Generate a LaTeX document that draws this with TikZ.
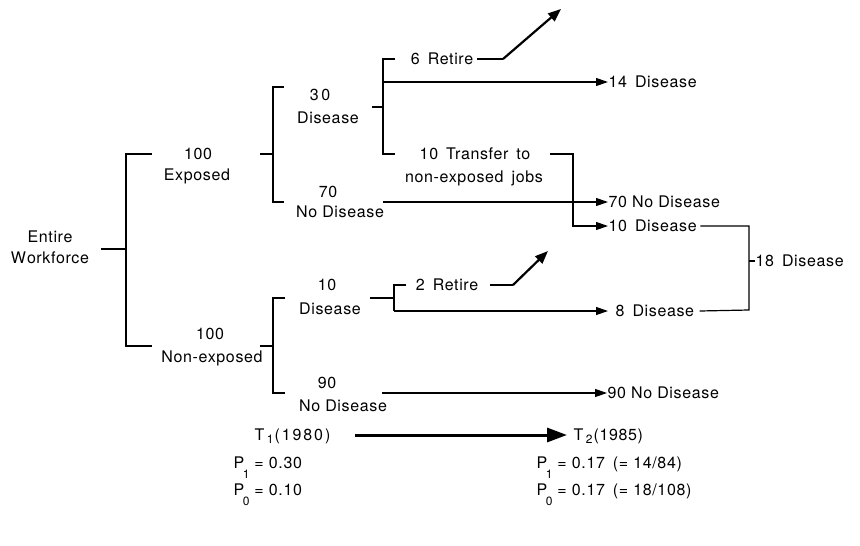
\documentclass[tikz,border=0pt]{standalone}
\usepackage{fontspec}
\setmainfont{TeX Gyre Heros}[LetterSpace=4]
\usetikzlibrary{arrows.meta}
% lowered index for T and P labels
\newcommand\tidx[1]{\kern2.5pt\raisebox{-3pt}{\fontsize{12}{12}\selectfont#1}\kern1pt}
\newcommand\pidx[1]{\kern-1.5pt\raisebox{-10pt}{\fontsize{12}{12}\selectfont#1}\kern5pt}
\begin{document}
\begin{tikzpicture}[x=1pt,y=-1pt,line width=1.2pt,
  lbl/.style={inner sep=0pt,font=\fontsize{16}{19}\selectfont,text height=11.5pt,text depth=0pt},
  wide/.style={lbl,font=\fontsize{16}{19}\selectfont\addfontfeatures{LetterSpace=12}},
  arr/.style={-{Triangle[length=12pt,width=8pt]}},
  retire/.style={line width=2.2pt,-{Triangle[length=13pt,width=10pt]}},
  timeline/.style={line width=3pt,-{Triangle[length=20pt,width=14pt]}}]
\useasboundingbox (0,0) rectangle (860,546);

% ---- labels ----
\node[lbl] (ent1) at (50,237) {Entire};
\node[lbl] (ent2) at (50,258) {W\kern1pt o\kern0.5pt rkforce};
\node[lbl] (ex1) at (198,154) {100};
\node[lbl] (ex2) at (197,175) {Exposed};
\node[lbl] (ne1) at (210,334) {100};
\node[lbl] (ne2) at (212,357) {Non-exposed};

\node[lbl] (ed1) at (320,95) {3\,0};
\node[lbl] (ed2) at (328,118) {Disease};
\node[lbl] (en1) at (328,192) {70};
\node[lbl] (en2) at (340,212) {No Disease};

\node[lbl] (ret6) at (442,59) {6\enspace Retire};
\node[lbl] (tr1) at (475,154) {10\enspace Transfer\enspace to};
\node[lbl] (tr2) at (474,177) {non-exposed\enspace jobs};

\node[lbl,anchor=west] (x14) at (608,82) {14\enspace Disease};
\node[lbl,anchor=west] (x70) at (608,202) {70 No Disease};
\node[lbl,anchor=west] (x10) at (608,226) {10\enspace Disease};
\node[lbl,anchor=west] (x18) at (755,261) {18\enspace Disease};

\node[lbl] (nd1) at (327,285) {10};
\node[lbl] (nd2) at (330,309) {Disease};
\node[lbl] (ret2) at (447,285) {2\enspace Retire};
\node[lbl,anchor=west] (x8) at (615,311) {8\enspace Disease};
\node[lbl] (nn1) at (327,383) {90};
\node[lbl] (nn2) at (343,406) {No Disease};
\node[lbl,anchor=west] (x90) at (607,393) {90 No Disease};

\node[wide,anchor=west] (t1) at (254,435) {T\tidx{1}(1980)};
\node[lbl,anchor=west] (t2) at (573,435) {T\tidx{2}(1985)};

\node[lbl,anchor=west] (p1a) at (233,463) {P\pidx{1}= 0.30};
\node[lbl,anchor=west] (p0a) at (233,490) {P\pidx{0}= 0.10};
\node[lbl,anchor=west] (p1b) at (536,463) {P\pidx{1}= 0.17\enspace(= 14/84)};
\node[lbl,anchor=west] (p0b) at (536,490) {P\pidx{0}= 0.17\enspace(= 18/108)};

% ---- bracket coordinates ----
\coordinate (wf) at (101,249);
\coordinate (wfv) at (126,249);
\coordinate (exs) at (260,154);
\coordinate (exv) at (273,154);
\coordinate (nes) at (260,346);
\coordinate (nev) at (273,346);
\coordinate (eds) at (372,107);
\coordinate (edv) at (383,107);
\coordinate (nds) at (370,298);
\coordinate (ndv) at (394,298);

% workforce split
\draw (wf) -- (wfv);
\draw (152,154) -- (126,154) -- (126,346) -- (152,346);

% exposed split
\draw (exs) -- (exv);
\draw (284,87) -- (273,87) -- (273,202) -- (284,202);

% exposed, disease
\draw (eds) -- (edv);
\draw (395,59) -- (383,59) -- (383,154) -- (395,154);
\draw (477,59) -- (503,59);
\draw[retire] (503,59) -- (561,9);
\draw[arr] (383,82) -- (x14.west);
\draw[arr] (550,154) -- (573,154) -- (573,226) -- (x10.west);

% exposed, no disease
\draw[arr] (383,202) -- (x70.west);

% non-exposed split
\draw (nes) -- (nev);
\draw (285,298) -- (273,298) -- (273,393) -- (285,393);

% non-exposed, disease
\draw (nds) -- (ndv);
\draw (406,285) -- (394,285) -- (394,311);
\draw[arr] (394,311) -- ([xshift=-7pt]x8.west);
\draw (490,285) -- (513,285);
\draw[retire] (513,285) -- (548,251);

% non-exposed, no disease
\draw[arr] (382,393) -- (x90.west);

% combined disease count
\draw ([xshift=3pt]x10.east) -- (749,226) -- (749,310) -- ([xshift=5pt]x8.east);
\draw (749,261) -- (x18.west);

% time axis
\draw[timeline] (355,435) -- ([xshift=-6pt]t2.west);
\end{tikzpicture}
\end{document}
